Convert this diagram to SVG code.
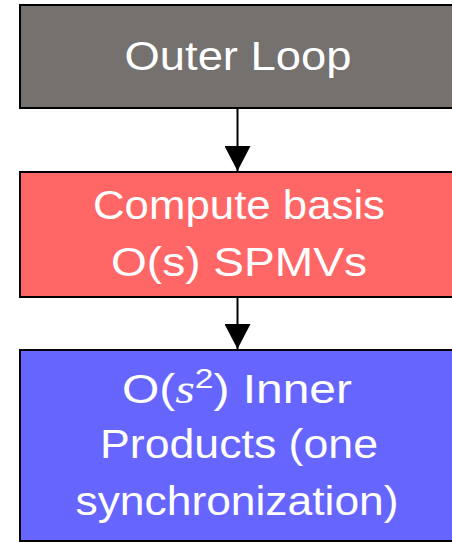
<svg xmlns="http://www.w3.org/2000/svg" width="452" height="542" viewBox="0 0 452 542">
<defs>
<style>
.box{stroke:#000;stroke-width:2}
.lbl{font-family:"Liberation Sans","DejaVu Sans",sans-serif;font-size:40px;fill:#fff;text-anchor:middle}
.edge{stroke:#000;stroke-width:2;fill:none}
</style>
<marker id="ah" markerWidth="26" markerHeight="26" viewBox="0 0 26 26" refX="25" refY="13" orient="auto" markerUnits="userSpaceOnUse">
<path d="M0,0 L25,13 L0,26 Z" fill="#000"/>
</marker>
</defs>
<g id="outer">
<rect class="box" x="20" y="5" width="434" height="103" fill="#75716f"/>
<text class="lbl" x="238" y="70" textLength="227" lengthAdjust="spacingAndGlyphs">Outer Loop</text>
</g>
<g id="basis">
<rect class="box" x="20" y="172" width="434" height="125" fill="#ff6666"/>
<text class="lbl" x="239" y="219" textLength="292" lengthAdjust="spacingAndGlyphs">Compute basis</text>
<text class="lbl" x="239" y="276" textLength="256" lengthAdjust="spacingAndGlyphs">O(s) SPMVs</text>
</g>
<g id="inner">
<rect class="box" x="20" y="350" width="434" height="191" fill="#6666ff"/>
<text class="lbl" x="237" y="403" textLength="230" lengthAdjust="spacingAndGlyphs">O(<tspan font-style="italic" font-family="Liberation Serif, serif" font-size="42">s</tspan><tspan font-size="28" dy="-15">2</tspan><tspan dy="15">) Inner</tspan></text>
<text class="lbl" x="239" y="458" textLength="278" lengthAdjust="spacingAndGlyphs">Products (one</text>
<text class="lbl" x="237" y="515" textLength="323" lengthAdjust="spacingAndGlyphs">synchronization)</text>
</g>
<g id="connectors">
<line class="edge" x1="237.5" y1="108" x2="237.5" y2="171" marker-end="url(#ah)"/>
<line class="edge" x1="237.5" y1="297" x2="237.5" y2="349" marker-end="url(#ah)"/>
</g>
</svg>
